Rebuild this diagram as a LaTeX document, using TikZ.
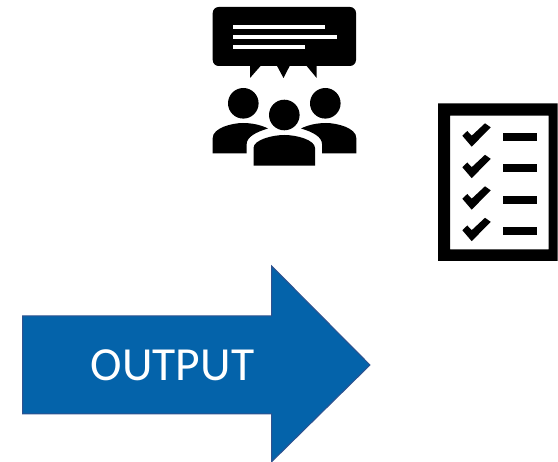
\documentclass[tikz,border=0pt]{standalone}
\usepackage{xcolor}
\usepackage{fontspec}
\setmainfont{Carlito}
\usepackage{tikz}
\usetikzlibrary{positioning}
\definecolor{arrowblue}{RGB}{4, 99, 170}
\definecolor{arrowedge}{RGB}{47, 82, 143}
\tikzstyle{icon} = [fill=black, draw=none]
\tikzstyle{textline} = [fill=white, draw=none]
\tikzstyle{outputarrow} = [fill=arrowblue, draw=arrowedge, line width=1pt, line join=miter]
\tikzstyle{outputlabel} = [text=white, font=\fontsize{47.5}{50}\selectfont, inner sep=0pt, anchor=base]

\begin{document}
\begin{tikzpicture}[x=1pt, y=-1pt]
    \useasboundingbox (0,0) rectangle (558,462);

    \fill [icon, rounded corners=6pt] (212.7,7) rectangle (356,66);
    \fill [icon] (250,64) -- (250,78) -- (262.3,64) -- cycle;
    \fill [icon] (276,64) -- (283.5,78) -- (290.7,64) -- cycle;
    \fill [icon] (305,64) -- (316.7,78) -- (316.7,64) -- cycle;
    \fill [textline] (232.7,25) rectangle (325,29);
    \fill [textline] (232.7,34.7) rectangle (337,38.7);
    \fill [textline] (232.7,44.7) rectangle (305.3,48.7);

    \foreach \headx/\heady in {243.3/103.3, 325.3/103.3, 284.3/115}
        \fill [icon] (\headx,\heady) circle (15.3);

    \fill [icon] (212.7,153.3) -- (212.7,138) .. controls (212.7,128) and (232,123) .. (243,123)
        .. controls (252,123) and (261,125) .. (268,128.5)
        .. controls (256,132) and (246.7,137) .. (246.7,144) -- (246.7,153.3) -- cycle;
    \fill [icon] (356.3,153.3) -- (356.3,138) .. controls (356.3,128) and (337,123) .. (326,123)
        .. controls (317,123) and (308,125) .. (301,128.5)
        .. controls (313,132) and (322,137) .. (322,144) -- (322,153.3) -- cycle;
    \fill [icon] (253.5,165.7) -- (253.5,148) .. controls (253.5,140) and (272,135) .. (284.3,135)
        .. controls (297,135) and (315,140) .. (315,148) -- (315,165.7) -- cycle;

    \fill [icon, even odd rule] (438,103.3) rectangle (557.7,261) (450,115.7) rectangle (548.7,249.3);
    \foreach \rowy in {0,31.5,63,94.5} {
        \fill [icon, yshift=-\rowy pt] (462.3,135.7) -- (471.7,146.7) -- (490.7,127.3) -- (485,123.3)
            -- (471.7,135.7) -- (467.3,131) -- cycle;
        \fill [icon, yshift=-\rowy pt] (503,133) rectangle (537,140.7);
    }

    \draw [outputarrow] (22.7,316) -- (271.7,316) -- (271.7,266) -- (370,365) -- (271.7,461.7)
        -- (271.7,414) -- (22.7,414) -- cycle;
    \node [outputlabel] (output) at (172.5,380.7) {OUTPUT};
\end{tikzpicture}
\end{document}
